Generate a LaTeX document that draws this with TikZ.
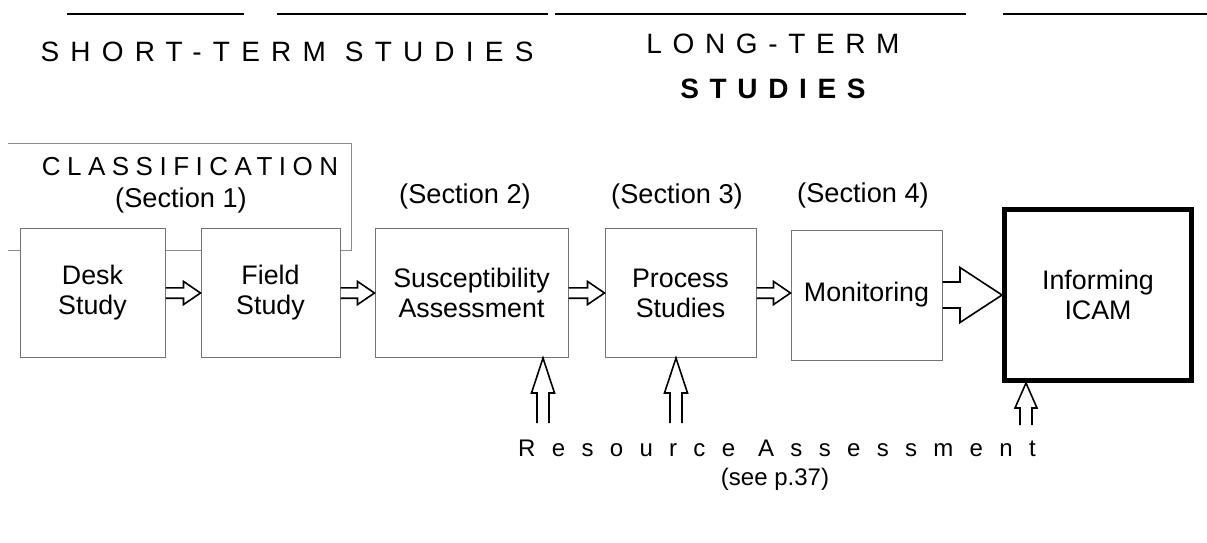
\documentclass[tikz,border=0pt]{standalone}
\usepackage{fontspec}
\setmainfont{Liberation Sans}
\usetikzlibrary{calc}
\tikzset{>=stealth,
  stage/.style={draw=black!55, line width=0.5pt, fill=white, align=center,
    inner sep=0pt, font=\fontsize{13.4}{15}\selectfont},
  heading/.style={font=\fontsize{14}{17}\selectfont\addfontfeature{LetterSpace=40}},
  seclabel/.style={font=\fontsize{13.6}{15}\selectfont},
  frameline/.style={draw=black!45, line width=0.5pt},
  blockline/.style={line width=0.8pt, line join=miter}}

\newcommand{\blockarrow}[5]{%
  \coordinate (hb) at ($(#2)!#5!(#1)$);
  \draw[blockline] ($(#1)!#3!90:(#2)$) -- ($(hb)!#3!90:(#2)$) -- ($(hb)!#4!90:(#2)$)
    -- (#2) -- ($(hb)!#4!-90:(#2)$) -- ($(hb)!#3!-90:(#2)$) -- ($(#1)!#3!-90:(#2)$);}

\begin{document}
\begin{tikzpicture}[x=0.5pt,y=-0.5pt]
\useasboundingbox (0,0) rectangle (1207,542);
\draw[line width=0.6pt] (67,14) -- (244,14);
\draw[line width=0.6pt] (277,14) -- (548,14);
\draw[line width=0.6pt] (555,14) -- (966,14);
\draw[line width=0.6pt] (1003,14) -- (1207,14);

\node[heading] (short) at (287,52) {SHORT-TERM STUDIES};
\node[heading, font=\fontsize{14}{17}\selectfont\addfontfeature{LetterSpace=38}] (long) at (773,44) {LONG-TERM};
\node[heading, font=\fontsize{14}{17}\selectfont\bfseries\addfontfeature{LetterSpace=38}] (longs) at (773,89) {STUDIES};

\draw[frameline] (8,143) -- (351,143) -- (351,250) -- (8,250);
\node[heading, font=\fontsize{13}{15}\selectfont\addfontfeature{LetterSpace=25}] (classif) at (190,167) {CLASSIFICATION};
\node[seclabel] (sec1) at (181,200) {(Section 1)};
\node[seclabel] (sec2) at (465,196) {(Section 2)};
\node[seclabel] (sec3) at (677,196) {(Section 3)};
\node[seclabel] (sec4) at (863,195) {(Section 4)};

\node[stage, minimum width=72.5pt, minimum height=64.5pt] (desk) at (92.5,293) {Desk\\Study};
\node[stage, minimum width=69.5pt, minimum height=64.5pt] (field) at (270.5,293) {Field\\Study};
\node[stage, minimum width=96.5pt, minimum height=64.5pt] (susc) at (471.5,293) {Susceptibility\\Assessment};
\node[stage, minimum width=75.5pt, minimum height=64.5pt] (process) at (680.5,293) {Process\\Studies};
\node[stage, minimum width=75.5pt, minimum height=65pt] (monitor) at (866.5,295) {Monitoring};
\node[stage, draw=black, line width=2.5pt, minimum width=93.5pt, minimum height=85.5pt] (icam) at (1098,295) {Informing\\ICAM};

\blockarrow{desk.east}{field.west}{2.6pt}{5.8pt}{8.5pt}
\blockarrow{field.east}{susc.west}{2.6pt}{5.8pt}{8.5pt}
\blockarrow{susc.east}{process.west}{2.6pt}{5.8pt}{8.5pt}
\coordinate (pm) at (process.east -| monitor.west);
\blockarrow{process.east}{pm}{2.6pt}{5.8pt}{8.5pt}
\blockarrow{monitor.east}{icam.west}{6.5pt}{13.75pt}{21pt}

\node[heading, font=\fontsize{12}{14}\selectfont\addfontfeature{LetterSpace=68}] (resource) at (777,448) {Resource Assessment};
\node[font=\fontsize{12}{14}\selectfont] (seepage) at (775,479) {(see p.37)};

\coordinate (ra1) at (543,423);
\coordinate (ra1t) at (ra1 |- susc.south);
\coordinate (ra2) at (676,423);
\coordinate (ra2t) at (ra2 |- process.south);
\coordinate (ra3) at (1026,425);
\coordinate (ra3t) at (ra3 |- icam.south);
\blockarrow{ra1}{ra1t}{3pt}{5.75pt}{17.5pt}
\blockarrow{ra2}{ra2t}{3pt}{5.75pt}{17.5pt}
\blockarrow{ra3}{ra3t}{3pt}{5.5pt}{12.5pt}
\end{tikzpicture}
\end{document}
